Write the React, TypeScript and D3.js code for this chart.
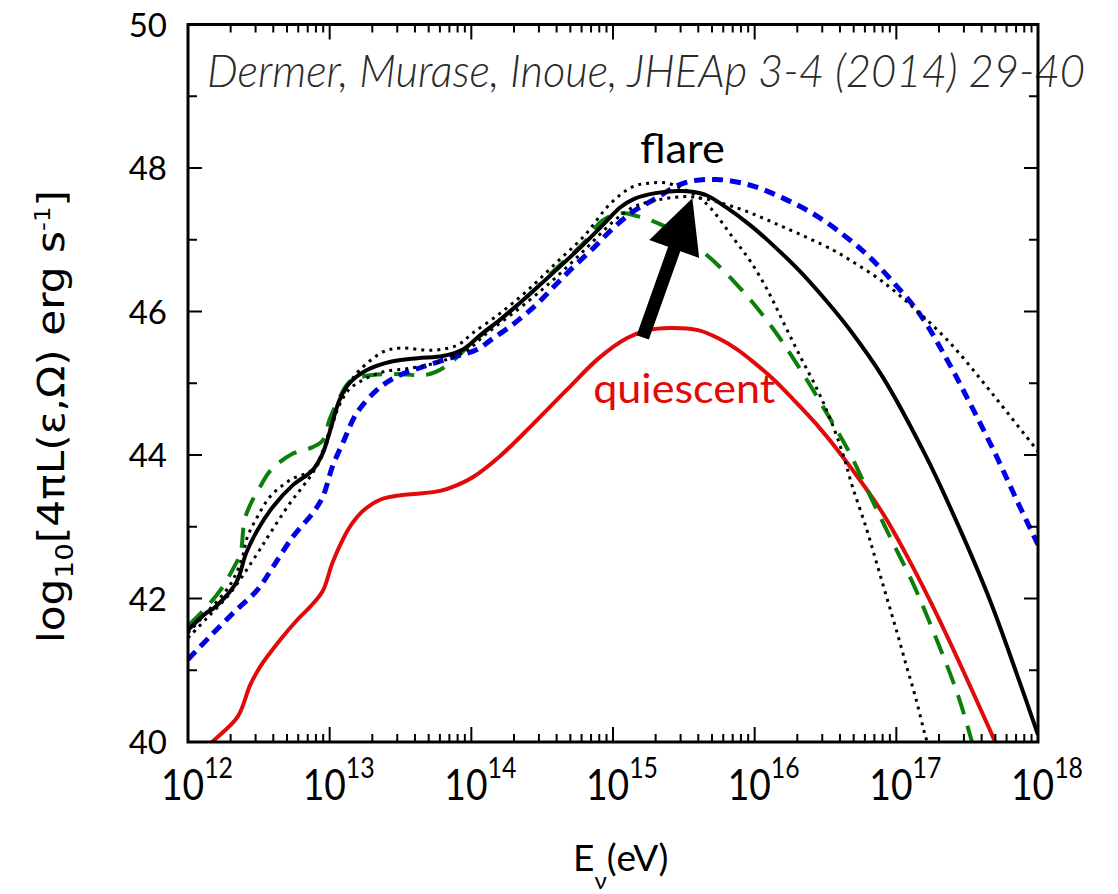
import React from 'react';
import * as d3 from 'd3';

// ---------- data (log10 E[eV], log10 L[erg/s]) ----------
const flareE = [12.0,12.13,12.18,12.34,12.41,12.49,12.6,12.74,12.88,12.95,13.0,13.07,13.14,13.26,13.43,13.62,13.8,13.94,14.08,14.2,14.4,14.6,14.8,14.95,15.05,15.15,15.3,15.45,15.56,15.66,15.8,15.97,16.11,16.32,16.51,16.67,16.9,17.21,17.43,17.66,17.85,18.0];
const flareL = [41.56,41.8,41.86,42.22,42.63,42.95,43.28,43.58,43.79,44.02,44.32,44.77,45.0,45.18,45.3,45.35,45.38,45.47,45.7,45.88,46.22,46.58,46.95,47.25,47.45,47.57,47.65,47.68,47.67,47.62,47.45,47.2,46.96,46.56,46.14,45.75,45.1,43.98,43.05,41.98,40.95,40.1];

const quietE = [12.1,12.17,12.35,12.44,12.51,12.65,12.77,12.86,12.95,13.02,13.1,13.16,13.24,13.36,13.5,13.62,13.78,13.9,14.01,14.2,14.43,14.67,14.9,15.1,15.25,15.4,15.6,15.75,15.87,15.97,16.13,16.27,16.44,16.62,16.9,17.1,17.28,17.47,17.66,17.72];
const quietL = [39.86,40.0,40.35,40.8,41.05,41.42,41.7,41.88,42.1,42.5,42.85,43.05,43.23,43.38,43.44,43.46,43.5,43.58,43.69,43.98,44.42,44.9,45.35,45.63,45.74,45.77,45.74,45.62,45.48,45.33,45.06,44.78,44.42,43.98,43.2,42.5,41.8,41.0,40.17,39.9];

const blueE = [12.0,12.15,12.32,12.49,12.6,12.74,12.88,12.95,13.02,13.1,13.19,13.33,13.47,13.66,13.85,14.04,14.15,14.3,14.45,14.58,14.72,14.86,15.0,15.14,15.28,15.5,15.73,15.97,16.2,16.44,16.67,16.81,16.95,17.17,17.36,17.52,17.71,17.85,18.0];
const blueL = [41.15,41.46,41.8,42.12,42.44,42.86,43.19,43.41,43.84,44.2,44.58,44.9,45.09,45.23,45.35,45.47,45.62,45.83,46.08,46.34,46.62,46.88,47.16,47.39,47.55,47.79,47.84,47.76,47.58,47.33,47.0,46.76,46.47,45.95,45.32,44.72,43.97,43.37,42.75];

const greenE = [12.0,12.13,12.23,12.32,12.37,12.4,12.45,12.51,12.58,12.74,12.88,12.95,13.0,13.07,13.14,13.25,13.45,13.69,13.83,13.97,14.1,14.2,14.4,14.6,14.8,14.92,15.05,15.17,15.35,15.63,15.9,16.13,16.32,16.51,16.67,16.81,16.95,17.12,17.28,17.43,17.52,17.56];
const greenL = [41.62,41.88,42.12,42.42,42.63,43.1,43.35,43.56,43.78,44.02,44.11,44.2,44.5,44.8,45.02,45.1,45.13,45.12,45.25,45.5,45.72,45.88,46.22,46.6,46.97,47.26,47.37,47.33,47.2,46.84,46.32,45.76,45.2,44.58,44.03,43.45,42.88,42.2,41.45,40.68,40.1,39.8];

const dotAE = [12.0,12.13,12.3,12.38,12.42,12.49,12.58,12.72,12.88,12.95,13.0,13.07,13.14,13.21,13.38,13.5,13.73,13.9,14.01,14.2,14.4,14.6,14.8,14.98,15.14,15.26,15.38,15.5,15.6,15.69,15.85,15.97,16.09,16.2,16.32,16.44,16.53,16.62,16.69,16.79,16.86,16.93,17.0,17.07,17.14,17.2,17.25];
const dotAL = [41.52,41.8,42.2,42.55,42.86,43.14,43.42,43.65,43.8,44.05,44.35,44.75,45.0,45.18,45.44,45.49,45.46,45.53,45.7,45.97,46.3,46.68,47.06,47.5,47.74,47.79,47.79,47.7,47.6,47.44,47.02,46.7,46.3,45.86,45.38,44.92,44.52,44.03,43.56,42.97,42.5,42.03,41.56,41.07,40.59,40.12,39.8];

const dotBE = [12.0,12.13,12.3,12.49,12.58,12.72,12.81,12.88,12.95,13.0,13.07,13.14,13.24,13.38,13.57,13.78,13.97,14.1,14.4,14.6,14.8,15.0,15.13,15.26,15.54,15.85,16.2,16.55,16.67,16.9,17.14,17.38,17.61,17.8,18.0];
const dotBL = [41.45,41.72,42.08,42.63,42.91,43.33,43.56,43.75,44.0,44.3,44.7,44.92,45.05,45.16,45.21,45.3,45.46,45.68,46.14,46.48,46.86,47.25,47.44,47.53,47.6,47.46,47.18,46.86,46.72,46.42,46.02,45.56,45.02,44.55,44.05];

const xDecades = [12, 13, 14, 15, 16, 17, 18];
const yTicks = [40, 42, 44, 46, 48, 50];
const yMinor = [41, 43, 45, 47, 49];

// annotation anchors in data coordinates
const arrowTail = [15.21, 45.64];
const arrowTip = [15.56, 47.58];
const flareLabelPos = [15.19, 48.07];
const quietLabelPos = [14.86, 44.72];

const citation = 'Dermer, Murase, Inoue, JHEAp 3-4 (2014) 29-40';

// ---------- layout ----------
const W = 1118, H = 894;
const L0 = 188, R0 = 1038, T0 = 24.5, B0 = 742;

const x = d3.scaleLog().domain([1e12, 1e18]).range([L0, R0]);
const y = d3.scaleLinear().domain([40, 50]).range([B0, T0]);
const px = (e: number) => x(Math.pow(10, e));

function pathOf(E: number[], Lv: number[]) {
  const pts = E.map((e, i) => [e, Lv[i]] as [number, number]);
  return d3.line<[number, number]>()
    .x(d => px(d[0]))
    .y(d => y(d[1]))
    .curve(d3.curveCatmullRom.alpha(0.5))(pts) || '';
}

const GILL = 'Lato, "Open Sans", sans-serif';
const DJ = '"DejaVu Sans", sans-serif';

export default function App() {
  const xMajor = xDecades.map(d => px(d));
  const xMinorVals: number[] = [];
  xDecades.slice(0, -1).forEach(d => {
    for (let k = 2; k <= 9; k++) xMinorVals.push(px(d + Math.log10(k)));
  });

  // arrow geometry
  const tx = px(arrowTail[0]), ty = y(arrowTail[1]);
  const hx = px(arrowTip[0]), hy = y(arrowTip[1]);
  const len = Math.hypot(hx - tx, hy - ty);
  const ux = (hx - tx) / len, uy = (hy - ty) / len;
  const nx = -uy, ny = ux;
  const sw = 6.5, hw = 26.5, hl = 54;
  const bx = hx - ux * hl, by = hy - uy * hl;
  const arrowPts = [
    [tx + nx * sw, ty + ny * sw],
    [bx + nx * sw, by + ny * sw],
    [bx + nx * hw, by + ny * hw],
    [hx, hy],
    [bx - nx * hw, by - ny * hw],
    [bx - nx * sw, by - ny * sw],
    [tx - nx * sw, ty - ny * sw],
  ].map(p => p.join(',')).join(' ');

  return (
    <svg width={W} height={H} style={{ position: 'absolute', left: 0, top: 0, background: '#fff' }}
      xmlns="http://www.w3.org/2000/svg">
      <defs>
        <clipPath id="plotclip">
          <rect x={L0} y={T0} width={R0 - L0} height={B0 - T0} />
        </clipPath>
      </defs>

      {/* citation */}
      <text x={207} y={87} fontFamily={GILL} fontStyle="italic" fontWeight={300} fontSize={46}
        fill="#2a2a2a" textLength={878} lengthAdjust="spacingAndGlyphs">{citation}</text>

      {/* curves */}
      <g clipPath="url(#plotclip)" fill="none" strokeLinejoin="round">
        <path d={pathOf(quietE, quietL)} stroke="#e00a0a" strokeWidth={4} />
        <path d={pathOf(greenE, greenL)} stroke="#0a800a" strokeWidth={4} strokeDasharray="20,12" />
        <path d={pathOf(blueE, blueL)} stroke="#0000e6" strokeWidth={5} strokeDasharray="11,7" />
        <path d={pathOf(dotAE, dotAL)} stroke="#000" strokeWidth={3} strokeDasharray="3,5" />
        <path d={pathOf(dotBE, dotBL)} stroke="#000" strokeWidth={3} strokeDasharray="3,5" />
        <path d={pathOf(flareE, flareL)} stroke="#000" strokeWidth={4} />
      </g>

      {/* arrow */}
      <polygon points={arrowPts} fill="#000" />

      {/* labels */}
      <text x={px(flareLabelPos[0])} y={y(flareLabelPos[1])} fontFamily={GILL} fontSize={40}
        fill="#000" textLength={85} lengthAdjust="spacingAndGlyphs">flare</text>
      <text x={px(quietLabelPos[0])} y={y(quietLabelPos[1])} fontFamily={GILL} fontSize={40}
        fill="#e00a0a" textLength={182} lengthAdjust="spacingAndGlyphs">quiescent</text>

      {/* frame */}
      <rect x={L0} y={T0} width={R0 - L0} height={B0 - T0} fill="none" stroke="#000" strokeWidth={3} />

      {/* ticks */}
      <g stroke="#000" strokeWidth={2}>
        {xMajor.map((v, i) => (
          <g key={'xm' + i}>
            <line x1={v} x2={v} y1={B0} y2={B0 - 15} />
            <line x1={v} x2={v} y1={T0} y2={T0 + 15} />
          </g>
        ))}
        {xMinorVals.map((v, i) => (
          <g key={'xn' + i}>
            <line x1={v} x2={v} y1={B0} y2={B0 - 8} />
            <line x1={v} x2={v} y1={T0} y2={T0 + 8} />
          </g>
        ))}
        {yTicks.map((t, i) => (
          <g key={'ym' + i}>
            <line x1={L0} x2={L0 + 14} y1={y(t)} y2={y(t)} />
            <line x1={R0} x2={R0 - 14} y1={y(t)} y2={y(t)} />
          </g>
        ))}
        {yMinor.map((t, i) => (
          <g key={'yn' + i}>
            <line x1={L0} x2={L0 + 9} y1={y(t)} y2={y(t)} />
            <line x1={R0} x2={R0 - 9} y1={y(t)} y2={y(t)} />
          </g>
        ))}
      </g>

      {/* y tick labels */}
      {yTicks.map((t, i) => (
        <text key={'yl' + i} x={167} y={y(t) + 12} textAnchor="end" fontFamily={GILL}
          fontSize={33} fill="#000">{t}</text>
      ))}

      {/* x tick labels */}
      {xDecades.map((d, i) => (
        <text key={'xl' + i} x={px(d) + 9} y={800} textAnchor="middle" fontFamily={GILL}
          fontSize={42} fill="#000" textLength={72} lengthAdjust="spacingAndGlyphs">
          10<tspan dy={-22} fontSize={28}>{d}</tspan>
        </text>
      ))}

      {/* x axis title */}
      <text x={573} y={871} fontFamily={GILL} fontSize={37} fill="#000">
        E<tspan dy={18} fontSize={24}>ν</tspan><tspan dy={-18}>(eV)</tspan>
      </text>

      {/* y axis title */}
      <text transform="translate(64,643) rotate(-90)" fontFamily={DJ} fontSize={38} fill="#000"
        textLength={453} lengthAdjust="spacingAndGlyphs">
        log<tspan dy={9} fontSize={25}>10</tspan><tspan dy={-9}>[4πL(ε,Ω) erg s</tspan><tspan dy={-14} fontSize={22}>-1</tspan><tspan dy={14}>]</tspan>
      </text>
    </svg>
  );
}
